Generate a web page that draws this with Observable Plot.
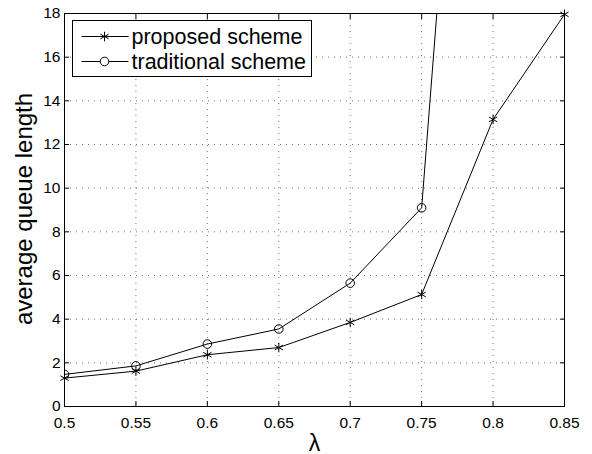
<!DOCTYPE html>
<html>
<head>
<meta charset="utf-8">
<script src="https://cdn.jsdelivr.net/npm/d3@7"></script>
<script src="https://cdn.jsdelivr.net/npm/@observablehq/plot@0.6"></script>
<style>
  html, body { margin: 0; padding: 0; background: #fff; }
  #chart { position: relative; width: 592px; height: 454px; }
  #chart svg { font-family: "Liberation Sans", Arial, Helvetica, sans-serif; }
  [aria-label="x-axis label"] text { font-size: 23px; }
</style>
</head>
<body>
<div id="chart"></div>
<script>
// ---- data ----
const lambda = [0.5, 0.55, 0.6, 0.65, 0.7, 0.75, 0.8, 0.85];
const proposed = [1.30, 1.62, 2.37, 2.70, 3.85, 5.13, 13.15, 17.96];
const traditionalLambda = [0.5, 0.55, 0.6, 0.65, 0.7, 0.75, 0.8];
const traditional = [1.47, 1.86, 2.86, 3.55, 5.65, 9.10, 51];
const xTicks = [0.5, 0.55, 0.6, 0.65, 0.7, 0.75, 0.8, 0.85];
const yTicks = [0, 2, 4, 6, 8, 10, 12, 14, 16, 18];
const seriesNames = ["proposed scheme", "traditional scheme"];
const yTitle = "average queue length";
const xTitle = "λ";

const prop = lambda.map((x, i) => ({x, y: proposed[i]}));
const trad = traditionalLambda.map((x, i) => ({x, y: traditional[i]}));

const grid = {stroke: "#000", strokeOpacity: 0.55, strokeDasharray: "1,5"};
const fmtX = d => String(d);

const svg = Plot.plot({
  width: 592,
  height: 454,
  marginLeft: 64,
  marginRight: 28,
  marginTop: 13,
  marginBottom: 48,
  style: {background: "#fff", fontSize: "15.5px", color: "#000"},
  x: {domain: [0.5, 0.85]},
  y: {domain: [0, 18]},
  marks: [
    Plot.gridX(xTicks, grid),
    Plot.gridY(yTicks, grid),
    Plot.line(trad, {x: "x", y: "y", stroke: "#000", strokeWidth: 1, clip: true}),
    Plot.dot(trad, {x: "x", y: "y", r: 4.3, stroke: "#000", fill: "none", strokeWidth: 1, clip: true}),
    Plot.line(prop, {x: "x", y: "y", stroke: "#000", strokeWidth: 1}),
    Plot.dot(prop, {x: "x", y: "y", symbol: "asterisk", r: 4.5, stroke: "#000", strokeWidth: 1}),
    // inward tick marks on all four sides
    Plot.axisX(xTicks, {anchor: "bottom", tickSize: -5, tickFormat: () => "", label: null}),
    Plot.axisX(xTicks, {anchor: "top", tickSize: -5, tickFormat: () => "", label: null}),
    Plot.axisY(yTicks, {anchor: "left", tickSize: -5, tickFormat: () => "", label: null}),
    Plot.axisY(yTicks, {anchor: "right", tickSize: -5, tickFormat: () => "", label: null}),
    // tick labels + axis titles
    Plot.axisX(xTicks, {anchor: "bottom", tickSize: 0, tickPadding: 10, tickFormat: fmtX,
      label: xTitle, labelAnchor: "center", labelArrow: "none", labelOffset: 44}),
    Plot.axisY(yTicks, {anchor: "left", tickSize: 0, tickPadding: 4, label: null}),
    Plot.text([yTitle], {text: d => d, frameAnchor: "left", rotate: -90, textAnchor: "middle",
      lineAnchor: "bottom", dx: -33, dy: -1, fontSize: 24, fill: "#000"}),
    Plot.frame({stroke: "#000", strokeWidth: 1})
  ]
});
document.getElementById("chart").appendChild(svg);

// ---- legend (inside plot area, top-left) ----
const lg = d3.select(svg).append("g").attr("class", "legend")
  .attr("transform", "translate(72.5,20.5)");
lg.append("rect").attr("width", 239).attr("height", 56)
  .attr("fill", "#fff").attr("stroke", "#000").attr("stroke-width", 1);
const rows = [
  {name: seriesNames[0], sym: d3.symbolAsterisk, size: 4.5 * 4.5 * Math.PI, fill: "none"},
  {name: seriesNames[1], sym: d3.symbolCircle, size: 4.3 * 4.3 * Math.PI, fill: "#fff"}
];
rows.forEach((r, i) => {
  const y = 16 + i * 25;
  const g = lg.append("g").attr("transform", `translate(0,${y})`);
  g.append("line").attr("x1", 9).attr("x2", 56).attr("stroke", "#000").attr("stroke-width", 1);
  g.append("path").attr("d", d3.symbol(r.sym, r.size)()).attr("transform", "translate(32,0)")
    .attr("stroke", "#000").attr("fill", r.fill);
  g.append("text").attr("x", 59).attr("dy", "0.35em").attr("font-size", 21.5)
    .attr("text-anchor", "start").attr("fill", "#000").text(r.name);
});
</script>
</body>
</html>
